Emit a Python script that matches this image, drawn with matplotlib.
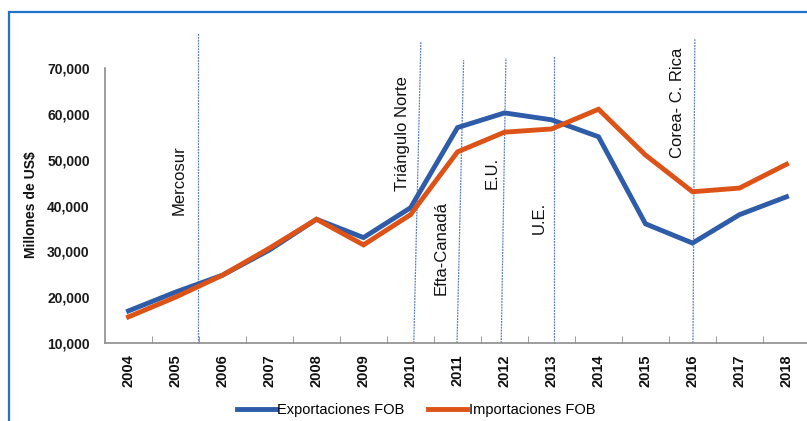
import numpy as np
import matplotlib.pyplot as plt
from matplotlib.patches import Rectangle

years = ['2004', '2005', '2006', '2007', '2008', '2009', '2010', '2011',
         '2012', '2013', '2014', '2015', '2016', '2017', '2018']
exportaciones = [17000, 21100, 24800, 30300, 37000, 33000, 39500, 57000,
                 60200, 58700, 55000, 36000, 31800, 38000, 41900]
importaciones = [15700, 20000, 24800, 30700, 37000, 31400, 38000, 51700,
                 56000, 56700, 61000, 51000, 43000, 43800, 49000]

# tratados: posicion (abajo, arriba), altura de la linea, posicion del rotulo
tratados = ['Mercosur', 'Triángulo Norte', 'Efta-Canadá', 'E.U.', 'U.E.', 'Corea- C. Rica']
linea_x0 = [1.48, 6.07, 6.99, 7.93, 9.06, 12.01]
linea_x1 = [1.48, 6.22, 7.13, 8.03, 9.06, 12.05]
linea_top = [77600, 75700, 71700, 72200, 72600, 76500]
rotulo_x = [1.085, 5.83, 6.66, 7.74, 8.74, 11.68]
rotulo_y = [45450, 55800, 30800, 47200, 37300, 62400]

azul = '#2f5ca8'
naranja = '#dd5217'
gris = '#8c8c8c'

fig = plt.figure(figsize=(8.07, 4.21), dpi=100)
ax = fig.add_axes([105 / 807, 1 - 343 / 421, 705 / 807, 275 / 421])

x = np.arange(len(years))
ax.plot(x, exportaciones, color=azul, lw=3.5, label='Exportaciones FOB',
        solid_joinstyle='miter', zorder=3)
ax.plot(x, importaciones, color=naranja, lw=3.5, label='Importaciones FOB',
        solid_joinstyle='miter', zorder=3)

for nombre, a, b, top, tx, ty in zip(tratados, linea_x0, linea_x1, linea_top,
                                     rotulo_x, rotulo_y):
    ax.plot([a, b], [10000, top], color='#3d66b5', lw=0.9,
            linestyle=(0, (1.5, 0.8)), alpha=0.85, clip_on=False, zorder=2)
    ax.text(tx, ty, nombre, rotation=90, ha='center', va='center',
            fontsize=12, family='Liberation Sans', color='#111111')

ax.set_xlim(-0.5, 14.5)
ax.set_ylim(10000, 70000)
ax.set_yticks(range(10000, 70001, 10000))
ax.set_yticklabels([f'{v:,}' for v in range(10000, 70001, 10000)],
                   fontsize=10, fontweight='bold', family='Liberation Sans',
                   color='#1a1a1a')
ax.set_xticks(x)
ax.set_xticklabels(years, rotation=90, fontsize=10.5, fontweight='bold',
                   family='Liberation Sans', color='#111111')
ax.set_xticks(np.arange(0.5, 14, 1), minor=True)
ax.tick_params(axis='y', length=0, pad=11)
ax.tick_params(axis='x', which='major', length=0, pad=8)
ax.tick_params(axis='x', which='minor', direction='in', length=5, color=gris)

for s in ['top', 'right']:
    ax.spines[s].set_visible(False)
for s in ['left', 'bottom']:
    ax.spines[s].set_color(gris)
    ax.spines[s].set_linewidth(1.2)

fig.text(31.5 / 807, 1 - 205 / 421, 'Millones de US$', rotation=90,
         ha='center', va='center', fontsize=10, fontweight='bold',
         family='Liberation Sans', color='#111111')

fig.legend(loc='center', bbox_to_anchor=(0.5155, 0.026), ncol=2, frameon=False,
           prop={'family': 'Liberation Sans', 'size': 10.5},
           handlelength=2.7, handletextpad=0.1, columnspacing=1.6,
           borderaxespad=0, borderpad=0)

# marco azul del recuadro
fig.patches.append(Rectangle((9 / 807, -0.2), 1.2, 1.2 - 12 / 421,
                             transform=fig.transFigure, fill=False,
                             edgecolor='#1f74c9', lw=1.6, zorder=0))

fig.savefig('out.png', dpi=100)
